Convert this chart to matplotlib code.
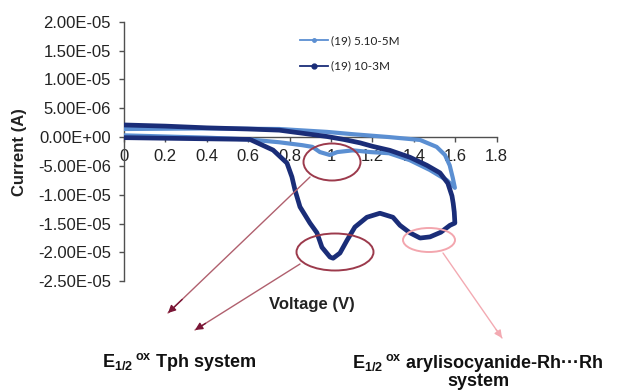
import matplotlib
matplotlib.use("Agg")
import matplotlib.pyplot as plt
from matplotlib.patches import Ellipse, FancyArrowPatch
from matplotlib.lines import Line2D
from matplotlib.ticker import FixedLocator, FixedFormatter

plt.rcParams['font.family'] = ['Liberation Sans', 'DejaVu Sans']
plt.rcParams['mathtext.fontset'] = 'custom'
plt.rcParams['mathtext.rm'] = 'Liberation Sans'
plt.rcParams['mathtext.bf'] = 'Liberation Sans:bold'

# ---------------- data ----------------
series_names = ['(19) 5.10-5M', '(19) 10-3M']

# (19) 5.10-5M : forward scan then reverse scan
light_v = [0, 0.2, 0.4, 0.6, 0.75, 0.86, 0.91, 0.946, 0.994, 1.03, 1.105, 1.19,
           1.28, 1.38, 1.477, 1.56, 1.598,
           1.588, 1.573, 1.55, 1.51, 1.43, 1.28, 1.105, 0.98, 0.75, 0.4, 0.0]
light_i = [0.3e-6, 0.1e-6, -0.1e-6, -0.4e-6, -0.9e-6, -1.4e-6, -1.7e-6, -2.6e-6, -3.1e-6,
           -2.6e-6, -2.3e-6, -2.6e-6, -2.8e-6, -4.0e-6, -5.7e-6, -7.5e-6, -8.8e-6,
           -7.1e-6, -4.9e-6, -3.1e-6, -1.7e-6, -0.5e-6, 0.0, 0.5e-6, 0.9e-6, 1.4e-6, 1.5e-6, 1.4e-6]

# (19) 10-3M : forward scan then reverse scan
dark_v = [0, 0.2, 0.4, 0.608, 0.72, 0.787, 0.811, 0.826, 0.85, 0.898, 0.932, 0.956,
          0.995, 1.01, 1.043, 1.077, 1.115, 1.173, 1.236, 1.299, 1.333, 1.381, 1.43,
          1.478, 1.53, 1.574, 1.598,
          1.595, 1.59, 1.584, 1.564, 1.526, 1.463, 1.381, 1.284, 1.2, 1.14, 1.06, 0.98,
          0.75, 0.6, 0.4, 0.2, 0.0]
dark_i = [-0.1e-6, -0.2e-6, -0.3e-6, -0.4e-6, -2.25e-6, -4.5e-6, -6.9e-6, -9.2e-6,
          -12.1e-6, -14.9e-6, -16.6e-6, -19.1e-6, -20.8e-6, -21.0e-6, -20.1e-6, -17.9e-6,
          -15.6e-6, -13.9e-6, -13.2e-6, -13.9e-6, -15.3e-6, -16.6e-6, -17.5e-6, -17.3e-6,
          -16.5e-6, -15.3e-6, -14.9e-6,
          -13.0e-6, -11.5e-6, -10.2e-6, -8.0e-6, -6.2e-6, -4.9e-6, -3.5e-6, -2.3e-6,
          -1.6e-6, -1.0e-6, -0.4e-6, 0.1e-6, 1.2e-6, 1.4e-6, 1.6e-6, 1.9e-6, 2.1e-6]

x_ticks = [0, 0.2, 0.4, 0.6, 0.8, 1.0, 1.2, 1.4, 1.6, 1.8]
x_tick_labels = ['0', '0.2', '0.4', '0.6', '0.8', '1', '1.2', '1.4', '1.6', '1.8']
y_ticks = [2.0e-5, 1.5e-5, 1.0e-5, 5.0e-6, 0.0, -5.0e-6, -1.0e-5, -1.5e-5, -2.0e-5, -2.5e-5]
y_tick_labels = ['2.00E-05', '1.50E-05', '1.00E-05', '5.00E-06', '0.00E+00',
                 '-5.00E-06', '-1.00E-05', '-1.50E-05', '-2.00E-05', '-2.50E-05']

x_label = 'Voltage (V)'
y_label = 'Current (A)'
note_left = r'$\mathbf{E}_{\mathbf{1/2}}\,{}^{\mathbf{ox}}$ Tph system'
note_right = r'$\mathbf{E}_{\mathbf{1/2}}\,{}^{\mathbf{ox}}$ arylisocyanide-Rh···Rh' + '\nsystem'

# ---------------- figure ----------------
W, H = 621, 392
fig = plt.figure(figsize=(W / 100, H / 100), dpi=100)
fig.patch.set_facecolor('white')


def fx(x):
    return x / W


def fy(y):
    return 1 - y / H


ax_l, ax_r = 124, 496.7
ax_t, ax_b = 21.7, 281.3
ax = fig.add_axes([fx(ax_l), fy(ax_b), (ax_r - ax_l) / W, (ax_b - ax_t) / H])
ax.set_xlim(0, 1.8)
ax.set_ylim(-2.5e-5, 2.0e-5)

light_c = '#5b8fd2'
dark_c = '#1a2d78'

ax.plot(light_v, light_i, color=light_c, lw=3.0, solid_capstyle='round',
        solid_joinstyle='round', zorder=3)
ax.plot(dark_v, dark_i, color=dark_c, lw=3.4, solid_capstyle='round',
        solid_joinstyle='round', zorder=4)

for s in ['top', 'right']:
    ax.spines[s].set_visible(False)
ax.spines['bottom'].set_position(('data', 0))
ax.spines['left'].set_bounds(-2.5e-5, 2.0e-5)
for s in ['left', 'bottom']:
    ax.spines[s].set_color('#505050')
    ax.spines[s].set_linewidth(1.0)

ax.xaxis.set_major_locator(FixedLocator(x_ticks))
ax.xaxis.set_major_formatter(FixedFormatter(x_tick_labels))
ax.yaxis.set_major_locator(FixedLocator(y_ticks))
ax.yaxis.set_major_formatter(FixedFormatter(y_tick_labels))
ax.tick_params(axis='x', direction='out', length=3.5, width=1, color='#505050',
               pad=5, labelsize=12, labelcolor='#222222')
ax.tick_params(axis='y', direction='out', length=3.5, width=1, color='#505050',
               pad=6, labelsize=12, labelcolor='#222222')
ax.patch.set_alpha(0)

# axis titles
fig.text(fx(20), fy(152), y_label, rotation=90, ha='center', va='center',
         fontsize=12, fontweight='bold', color='#222222')
fig.text(fx(312), fy(305), x_label, ha='center', va='center',
         fontsize=12, fontweight='bold', color='#222222')

# legend
handles = [Line2D([], [], color=light_c, lw=1.3, marker='o', ms=2.5),
           Line2D([], [], color=dark_c, lw=1.3, marker='o', ms=3.5)]
leg = ax.legend(handles, series_names, loc='upper left',
                bbox_to_anchor=(fx(300), fy(35)),
                bbox_transform=fig.transFigure, frameon=False, fontsize=8.5,
                handlelength=2.4, handletextpad=0.2, labelspacing=1.25,
                borderpad=0, borderaxespad=0)
for t in leg.get_texts():
    t.set_family(['Lato', 'DejaVu Sans'])
    t.set_color('#222222')

# annotation ellipses
ell_specs = [
    ((332, 162), 57, 37, '#9c3a4c'),
    ((335, 252), 77, 37, '#9c3a4c'),
    ((429, 240), 52, 24, '#f3a6ae'),
]
for (cx, cy), w, h, c in ell_specs:
    fig.add_artist(Ellipse((fx(cx), fy(cy)), w / W, h / H, transform=fig.transFigure,
                           fill=False, ec=c, lw=1.4, zorder=5))

arrow_specs = [
    ((310, 177), (168, 313), '#b0606e', '#7a1636'),
    ((300, 264), (195, 330), '#b0606e', '#7a1636'),
    ((443, 253), (502, 338), '#f3aab2', '#f3aab2'),
]
for (x0, y0), (x1, y1), lc, hc in arrow_specs:
    fig.add_artist(FancyArrowPatch((fx(x0), fy(y0)), (fx(x1), fy(y1)),
                                   transform=fig.transFigure, arrowstyle='-',
                                   color=lc, lw=1.0, shrinkA=0, shrinkB=0))
    fig.add_artist(FancyArrowPatch((fx(x0 + (x1 - x0) * 0.9), fy(y0 + (y1 - y0) * 0.9)),
                                   (fx(x1), fy(y1)),
                                   transform=fig.transFigure, arrowstyle='-|>',
                                   mutation_scale=11, color=hc, lw=1.0,
                                   shrinkA=0, shrinkB=0))

fig.text(fx(179), fy(362), note_left, ha='center', va='center', fontsize=13,
         fontweight='bold', color='#111111')
fig.text(fx(478), fy(371), note_right, ha='center', va='center', fontsize=13,
         fontweight='bold', color='#111111', linespacing=1.0)

fig.savefig('out.png', dpi=100, facecolor='white')
